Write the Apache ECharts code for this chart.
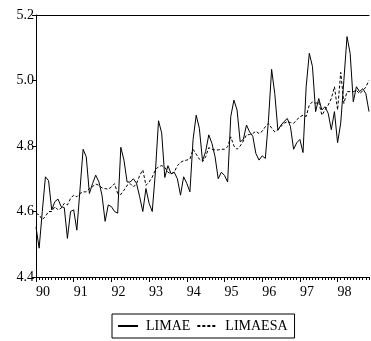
<!DOCTYPE html>
<html>
<head>
<meta charset="utf-8">
<script src="https://cdn.jsdelivr.net/npm/echarts@6/dist/echarts.min.js"></script>
<style>
  html, body { margin: 0; padding: 0; background: #fff; }
  #chart { width: 371px; height: 341px; }
</style>
</head>
<body>
<div id="chart"></div>
<script>
// monthly, 1990M01 .. 1998M11
var yearLabels = ['90', '91', '92', '93', '94', '95', '96', '97', '98'];
var monthCount = 107;

var limae = [
  4.553, 4.488, 4.600, 4.706, 4.694, 4.605, 4.630, 4.638, 4.615, 4.612, 4.518, 4.600,
  4.605, 4.543, 4.666, 4.790, 4.767, 4.655, 4.685, 4.711, 4.691, 4.650, 4.570, 4.620,
  4.615, 4.600, 4.595, 4.796, 4.757, 4.690, 4.690, 4.700, 4.686, 4.645, 4.600, 4.670,
  4.625, 4.600, 4.720, 4.877, 4.840, 4.704, 4.740, 4.715, 4.720, 4.700, 4.650, 4.706,
  4.686, 4.660, 4.820, 4.894, 4.854, 4.755, 4.783, 4.834, 4.808, 4.767, 4.700, 4.720,
  4.710, 4.690, 4.890, 4.940, 4.910, 4.813, 4.820, 4.864, 4.843, 4.830, 4.777, 4.757,
  4.770, 4.762, 4.879, 5.034, 4.960, 4.848, 4.864, 4.875, 4.884, 4.859, 4.790, 4.810,
  4.820, 4.780, 4.981, 5.083, 5.043, 4.905, 4.945, 4.910, 4.920, 4.900, 4.850, 4.905,
  4.810, 4.870, 5.000, 5.134, 5.083, 4.935, 4.981, 4.966, 4.975, 4.960, 4.905
];

var limaesa = [
  4.594, 4.590, 4.575, 4.585, 4.600, 4.600, 4.615, 4.605, 4.610, 4.625, 4.620, 4.640,
  4.650, 4.645, 4.655, 4.660, 4.660, 4.670, 4.676, 4.684, 4.680, 4.672, 4.670, 4.668,
  4.675, 4.685, 4.655, 4.652, 4.665, 4.680, 4.685, 4.675, 4.685, 4.710, 4.727, 4.680,
  4.690, 4.705, 4.727, 4.737, 4.740, 4.735, 4.720, 4.715, 4.720, 4.740, 4.750, 4.755,
  4.757, 4.760, 4.790, 4.775, 4.760, 4.752, 4.767, 4.795, 4.790, 4.788, 4.788, 4.790,
  4.790, 4.798, 4.828, 4.800, 4.790, 4.800, 4.815, 4.834, 4.835, 4.838, 4.845, 4.838,
  4.845, 4.859, 4.869, 4.855, 4.843, 4.850, 4.860, 4.870, 4.874, 4.872, 4.869, 4.880,
  4.889, 4.894, 4.890, 4.925, 4.935, 4.930, 4.935, 4.894, 4.910, 4.925, 4.945, 4.981,
  4.910, 5.025, 4.930, 4.966, 4.966, 4.966, 4.970, 4.960, 4.968, 4.980, 5.000
];

var yTicks = { min: 4.4, max: 5.2, step: 0.2 };

var months = [];
for (var i = 0; i < monthCount; i++) {
  months.push(yearLabels[Math.floor(i / 12)] + '-' + (i % 12 + 1));
}
function isYearStart(idx) { return idx % 12 === 0; }

var font = 'Liberation Serif';
var chart = echarts.init(document.getElementById('chart'), null, { renderer: 'canvas' });

chart.setOption({
  animation: false,
  backgroundColor: '#fff',
  grid: { left: 36, right: 2, top: 15, bottom: 64 },
  legend: {
    bottom: 3,
    left: 112,
    data: ['LIMAE', 'LIMAESA'],
    itemWidth: 20,
    itemHeight: 10,
    itemGap: 6,
    padding: [5, 7, 5, 5],
    borderColor: '#000',
    borderWidth: 1,
    borderRadius: 0,
    itemStyle: { opacity: 0 },
    textStyle: { fontFamily: font, fontSize: 14, color: '#000', padding: [0, 0, 0, 3] }
  },
  xAxis: [
    {
      type: 'category',
      data: months,
      boundaryGap: false,
      position: 'bottom',
      axisLine: { lineStyle: { color: '#000', width: 1 } },
      axisTick: { interval: 0, length: 3, lineStyle: { color: '#000' } },
      axisLabel: { show: false },
      splitLine: { show: false }
    },
    {
      type: 'category',
      data: months,
      boundaryGap: false,
      position: 'bottom',
      axisLine: { show: false },
      axisTick: { interval: isYearStart, length: 5, lineStyle: { color: '#000' } },
      axisLabel: {
        interval: isYearStart,
        align: 'left',
        margin: 8,
        fontFamily: font,
        fontSize: 14,
        color: '#000',
        formatter: function (v) { return v.split('-')[0]; }
      },
      splitLine: { show: false }
    },
    {
      type: 'category',
      data: months,
      boundaryGap: false,
      position: 'top',
      axisLine: { lineStyle: { color: '#000', width: 1 } },
      axisTick: { show: false },
      axisLabel: { show: false }
    }
  ],
  yAxis: {
    type: 'value',
    min: yTicks.min,
    max: yTicks.max,
    interval: yTicks.step,
    axisLine: { show: true, lineStyle: { color: '#000', width: 1 } },
    axisTick: { show: true, length: 4, lineStyle: { color: '#000' } },
    axisLabel: {
      margin: 2,
      fontFamily: font,
      fontSize: 14,
      color: '#000',
      formatter: function (v) { return v.toFixed(1); }
    },
    splitLine: { show: false }
  },
  series: [
    {
      name: 'LIMAE',
      type: 'line',
      xAxisIndex: 0,
      data: limae,
      symbol: 'none',
      lineStyle: { color: '#000', width: 1 },
      itemStyle: { color: '#000' }
    },
    {
      name: 'LIMAESA',
      type: 'line',
      xAxisIndex: 0,
      data: limaesa,
      symbol: 'none',
      lineStyle: { color: '#000', width: 1, type: [3, 2] },
      itemStyle: { color: '#000' }
    }
  ]
});
</script>
</body>
</html>
